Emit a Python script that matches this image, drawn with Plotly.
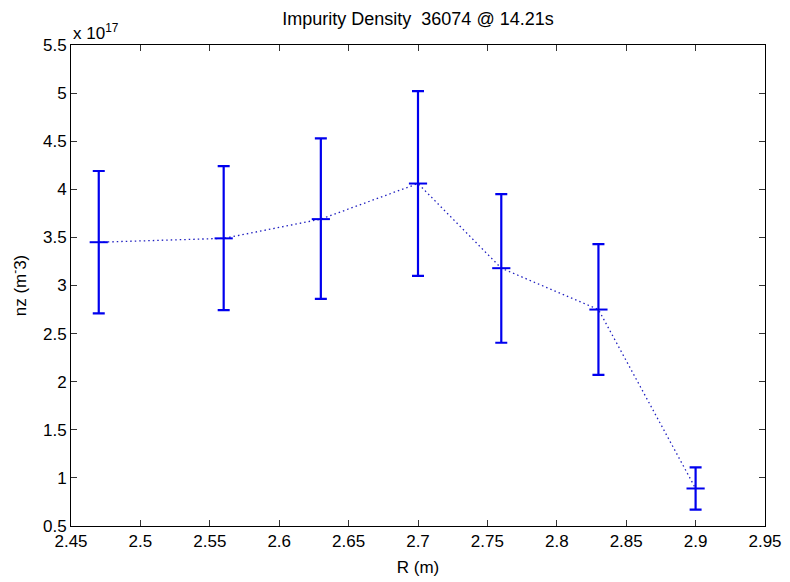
import plotly.graph_objects as go

R = [2.47, 2.56, 2.63, 2.70, 2.76, 2.83, 2.90]
nz = [3.45, 3.49, 3.69, 4.06, 3.18, 2.75, 0.89]
nz_upper = [4.19, 4.24, 4.53, 5.02, 3.95, 3.43, 1.11]
nz_lower = [2.71, 2.745, 2.86, 3.10, 2.405, 2.07, 0.67]

err_plus = [u - m for u, m in zip(nz_upper, nz)]
err_minus = [m - l for m, l in zip(nz, nz_lower)]

FONT = "Liberation Sans, Arial, Helvetica, sans-serif"
BLUE = "#0000ee"

fig = go.Figure()
fig.add_trace(go.Scatter(
    x=R, y=nz, mode="lines+markers",
    line=dict(color="#2020c0", width=1.3, dash="1.5px,3px"),
    marker=dict(symbol="line-ew", size=13, line=dict(color=BLUE, width=2)),
    error_y=dict(type="data", symmetric=False, array=err_plus, arrayminus=err_minus,
                 color=BLUE, thickness=2.2, width=6),
    showlegend=False,
))

fig.update_layout(
    width=782, height=574,
    margin=dict(l=63, r=25, t=37, b=56),
    paper_bgcolor="white", plot_bgcolor="white",
    font=dict(family=FONT, size=17, color="black"),
    title=dict(text="Impurity Density  36074 @ 14.21s", x=0.5, xref="paper",
               y=0.992, yanchor="top", font=dict(size=18, family=FONT)),
    xaxis=dict(range=[2.45, 2.95], dtick=0.05, tick0=2.45, ticks="inside", ticklen=6,
               tickcolor="#333", showline=True, linecolor="black", linewidth=1,
               mirror="ticks", showgrid=False, zeroline=False, automargin=False,
               title=dict(text="R (m)", standoff=10, font=dict(size=17))),
    yaxis=dict(range=[0.5, 5.5], dtick=0.5, tick0=0.5, ticks="inside", ticklen=6,
               tickcolor="#333", showline=True, linecolor="black", linewidth=1,
               mirror="ticks", showgrid=False, zeroline=False, automargin=False,
               title=dict(text="nz (m<sup>-</sup>3)", standoff=13, font=dict(size=17))),
    annotations=[dict(text="x 10<sup>17</sup>", xref="paper", yref="paper",
                      x=0.0, y=1.0, xanchor="left", yanchor="bottom",
                      showarrow=False, font=dict(size=17, family=FONT))],
)

fig.write_html("out.html")
